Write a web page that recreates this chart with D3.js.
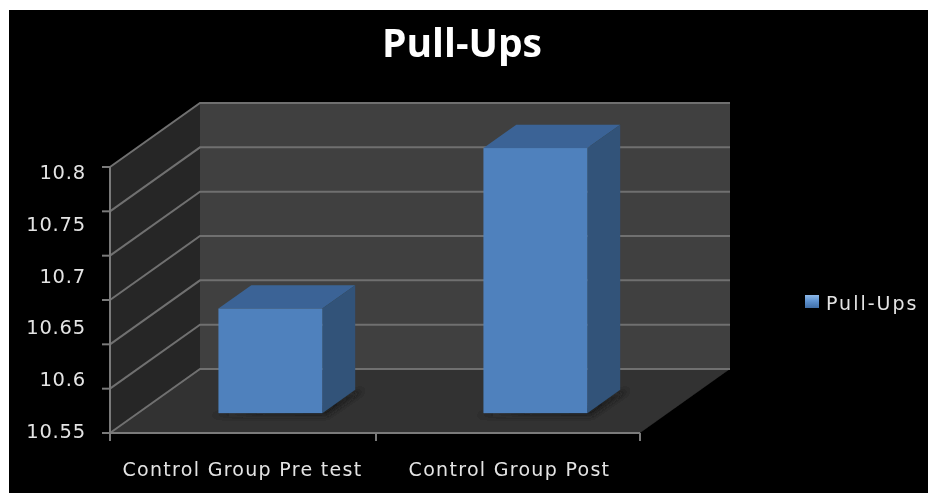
<!DOCTYPE html>
<html>
<head>
<meta charset="utf-8">
<script src="https://cdn.jsdelivr.net/npm/d3@7"></script>
<style>
  html, body { margin: 0; padding: 0; background: #fff; }
  svg { display: block; }
  text { font-family: "DejaVu Sans", sans-serif; }
</style>
</head>
<body>
<div id="chart"></div>
<script>
// Chart data
const categories = ["Control Group Pre test", "Control Group Post"];
const pullUps = [10.668, 10.849];
const gridValues = [10.55, 10.6, 10.65, 10.7, 10.75, 10.8, 10.85];
const tickLabels = ["10.8", "10.75", "10.7", "10.65", "10.6", "10.55"];
const seriesName = "Pull-Ups";

const width = 928;
const height = 493;

// Front edge of the plot box, and how far the box goes back
const plotLeft = 110;
const plotRight = 640;
const plotBottom = 433;
const plotTop = 167;
const depthX = 90;
const depthY = -64;

const x = d3.scaleBand().domain(categories).range([plotLeft, plotRight]);
const y = d3.scaleLinear().domain([10.55, 10.85]).range([plotBottom, plotTop]);

// The labels do not sit on the ticks in the original, they are spread on their own
const labelY = d3.scalePoint().domain(tickLabels).range([172, 431]);

const svg = d3.create("svg")
  .attr("width", width)
  .attr("height", height)
  .attr("viewBox", [0, 0, width, height]);
d3.select("#chart").append(() => svg.node());

const defs = svg.append("defs");
defs.append("filter").attr("id", "soft")
  .append("feGaussianBlur").attr("stdDeviation", 0.55);
defs.append("filter").attr("id", "shadow")
  .attr("x", "-20%").attr("y", "-20%").attr("width", "140%").attr("height", "140%")
  .append("feGaussianBlur").attr("stdDeviation", 2.5);

const swatch = defs.append("linearGradient").attr("id", "swatch")
  .attr("x1", 0).attr("y1", 0).attr("x2", 0).attr("y2", 1);
swatch.append("stop").attr("offset", "0%").attr("stop-color", "#8db8e8");
swatch.append("stop").attr("offset", "45%").attr("stop-color", "#5f93d0");
swatch.append("stop").attr("offset", "100%").attr("stop-color", "#3f6da6");

// Background, the reference has a thin white edge on top and left
svg.append("rect").attr("x", 9).attr("y", 10).attr("width", width - 9).attr("height", height - 10).attr("fill", "#000");

const pts = a => a.map(p => p.join(",")).join(" ");
const root = svg.append("g").attr("filter", "url(#soft)");

// Walls and floor
root.append("polygon").attr("fill", "#404040").attr("points", pts([
  [plotLeft + depthX, plotTop + depthY], [plotRight + depthX, plotTop + depthY],
  [plotRight + depthX, plotBottom + depthY], [plotLeft + depthX, plotBottom + depthY]]));
root.append("polygon").attr("fill", "#262626").attr("points", pts([
  [plotLeft, plotTop], [plotLeft + depthX, plotTop + depthY],
  [plotLeft + depthX, plotBottom + depthY], [plotLeft, plotBottom]]));
root.append("polygon").attr("fill", "#303030").attr("points", pts([
  [plotLeft, plotBottom], [plotLeft + depthX, plotBottom + depthY],
  [plotRight + depthX, plotBottom + depthY], [plotRight, plotBottom]]));

// Gridlines, drawn along the side wall then the back wall
root.append("g")
  .attr("fill", "none")
  .attr("stroke", "#707070")
  .attr("stroke-width", 2)
  .selectAll("polyline")
  .data(gridValues)
  .join("polyline")
  .attr("points", d => pts([
    [plotLeft, y(d)],
    [plotLeft + depthX, y(d) + depthY],
    [plotRight + depthX, y(d) + depthY]]));

// Bars
const barFront = 0.31; // depth fraction of the front face
const barBack = 0.675;
const barWidth = x.bandwidth() / 2.55;
const fx = d => x(d.category) + (x.bandwidth() - barWidth) / 2 + depthX * barFront;
const base = plotBottom + depthY * barFront;
const dx = depthX * (barBack - barFront);
const dy = depthY * (barBack - barFront);
const barData = categories.map((category, i) => ({category, value: pullUps[i]}));
const barTop = d => y(d.value) + depthY * barFront;

const bars = root.append("g").selectAll("g").data(barData).join("g");

bars.append("polygon")
  .attr("fill", "#1a1a1a")
  .attr("filter", "url(#shadow)")
  .attr("points", d => pts([
    [fx(d) - 6, base + 2], [fx(d) + barWidth + 4, base + 2],
    [fx(d) + barWidth + dx + 8, base + dy], [fx(d) + barWidth, base - 6]]));

bars.append("polygon")
  .attr("fill", "#3a6496")
  .attr("points", d => pts([
    [fx(d), barTop(d)], [fx(d) + barWidth, barTop(d)],
    [fx(d) + barWidth + dx, barTop(d) + dy], [fx(d) + dx, barTop(d) + dy]]));

bars.append("polygon")
  .attr("fill", "#305379")
  .attr("points", d => pts([
    [fx(d) + barWidth, barTop(d)], [fx(d) + barWidth + dx, barTop(d) + dy],
    [fx(d) + barWidth + dx, base + dy], [fx(d) + barWidth, base]]));

bars.append("rect")
  .attr("fill", "#4f81bd")
  .attr("x", fx)
  .attr("y", barTop)
  .attr("width", barWidth)
  .attr("height", d => base - barTop(d));

// Axis lines and ticks
const axisColor = "#7a7a7a";
root.append("line").attr("x1", plotLeft).attr("x2", plotLeft)
  .attr("y1", plotTop).attr("y2", plotBottom + 7)
  .attr("stroke", axisColor).attr("stroke-width", 2);
root.append("line").attr("x1", plotLeft - 8).attr("x2", plotRight)
  .attr("y1", plotBottom).attr("y2", plotBottom)
  .attr("stroke", axisColor).attr("stroke-width", 2);
root.append("g").selectAll("line").data(gridValues).join("line")
  .attr("x1", plotLeft - 8).attr("x2", plotLeft)
  .attr("y1", d => y(d)).attr("y2", d => y(d))
  .attr("stroke", axisColor).attr("stroke-width", 2);
root.append("g").selectAll("line").data([plotLeft, x(categories[1]) + 1, plotRight]).join("line")
  .attr("x1", d => d).attr("x2", d => d)
  .attr("y1", plotBottom).attr("y2", plotBottom + 8)
  .attr("stroke", axisColor).attr("stroke-width", 2);

// Texts
const labels = svg.append("g").attr("filter", "url(#soft)").attr("fill", "#e4e4e4");

labels.selectAll(".ylabel").data(tickLabels).join("text")
  .attr("class", "ylabel")
  .attr("x", 86)
  .attr("y", d => labelY(d))
  .attr("dy", "0.36em")
  .attr("text-anchor", "end")
  .attr("font-size", 19.5)
  .attr("letter-spacing", 0.8)
  .text(d => d);

labels.selectAll(".xlabel").data(categories).join("text")
  .attr("class", "xlabel")
  .attr("x", (d, i) => [242.5, 509.5][i])
  .attr("y", 476)
  .attr("text-anchor", "middle")
  .attr("font-size", 19)
  .attr("letter-spacing", 1.3)
  .text(d => d);

labels.append("text")
  .attr("x", 462)
  .attr("y", 57)
  .attr("text-anchor", "middle")
  .attr("font-size", 39)
  .attr("font-weight", "bold")
  .attr("fill", "#fff")
  .style("font-family", '"Open Sans", sans-serif')
  .text(seriesName);

// Legend
labels.append("rect").attr("x", 805).attr("y", 295).attr("width", 14).attr("height", 13).attr("fill", "url(#swatch)");
labels.append("text")
  .attr("x", 826)
  .attr("y", 310)
  .attr("font-size", 19)
  .attr("letter-spacing", 2)
  .text(seriesName);
</script>
</body>
</html>
